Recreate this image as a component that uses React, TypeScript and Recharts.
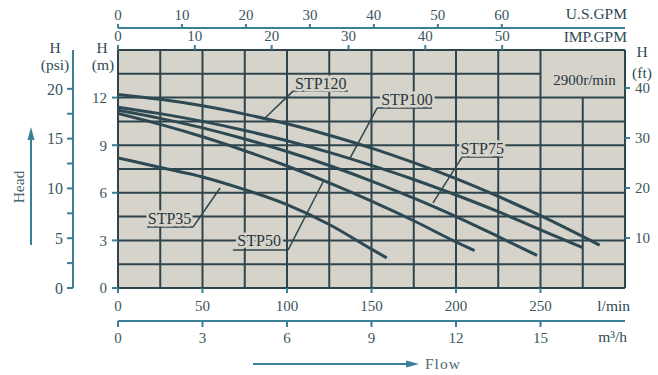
import React from "react";
import {
  ComposedChart,
  Line,
  ReferenceArea,
  ReferenceDot,
  ReferenceLine,
  XAxis,
  YAxis,
} from "recharts";

// pump curves, flow in l/min, head in m
const stp120Flow = [0, 25, 50, 75, 100, 125, 150, 175, 200, 225, 250, 285];
const stp120Head = [12.2, 11.89, 11.48, 10.96, 10.35, 9.63, 8.82, 7.9, 6.89, 5.77, 4.56, 2.7];
const stp100Flow = [0, 25, 50, 75, 100, 125, 150, 175, 200, 225, 250, 275];
const stp100Head = [11.4, 10.99, 10.5, 9.93, 9.28, 8.55, 7.73, 6.84, 5.86, 4.81, 3.67, 2.55];
const stp75Flow = [0, 25, 50, 75, 100, 125, 150, 175, 200, 225, 248];
const stp75Head = [11.2, 10.69, 10.09, 9.39, 8.6, 7.72, 6.74, 5.66, 4.5, 3.24, 2.05];
const stp50Flow = [0, 25, 50, 75, 100, 125, 150, 175, 200, 211];
const stp50Head = [11.0, 10.31, 9.53, 8.65, 7.69, 6.63, 5.48, 4.24, 2.9, 2.35];
const stp35Flow = [0, 25, 50, 75, 100, 125, 150, 159];
const stp35Head = [8.2, 7.6, 7.0, 6.2, 5.25, 4.0, 2.45, 1.9];

// axes
const gridFlows = [0, 25, 50, 75, 100, 125, 150, 175, 200, 225, 250, 275, 300];
const gridHeads = [0, 1.5, 3, 4.5, 6, 7.5, 9, 10.5, 12, 13.5, 15];
const lpmTicks = [0, 50, 100, 150, 200, 250];
const m3hTicks = [0, 3, 6, 9, 12, 15];
const usGpmTicks = [0, 10, 20, 30, 40, 50, 60];
const impGpmTicks = [0, 10, 20, 30, 40, 50];
const mTicks = [0, 3, 6, 9, 12];
const psiTicks = [0, 2.5, 5, 7.5, 10, 12.5, 15, 17.5, 20];
const ftTicks = [10, 20, 30, 40];

// the speed note sits in an open box in the top right corner of the grid
const speedNote = "2900r/min";
const boxFrom = { q: 250, h: 12 };

// curve labels and their leader lines (underline end, underline start, curve point)
const curveNames = ["STP120", "STP100", "STP75", "STP35", "STP50"];
const labelAt = [
  [120, 12.9],
  [171, 11.85],
  [215.5, 8.8],
  [30.5, 4.4],
  [83.5, 2.98],
];
const leaderPaths = [
  [[136, 12.41], [103.6, 12.41], [87, 10.71]],
  [[185.8, 11.34], [153.3, 11.34], [137.3, 8.19]],
  [[227.8, 8.25], [203.6, 8.25], [186.4, 5.36]],
  [[17.2, 3.84], [44.4, 3.84], [60.4, 6.3]],
  [[68, 2.39], [100.6, 2.39], [121.3, 6.68]],
];

const toPoints = (flow: number[], head: number[]) => flow.map((q, i) => ({ q, h: head[i] }));
const series = [
  { name: "STP120", data: toPoints(stp120Flow, stp120Head) },
  { name: "STP100", data: toPoints(stp100Flow, stp100Head) },
  { name: "STP75", data: toPoints(stp75Flow, stp75Head) },
  { name: "STP50", data: toPoints(stp50Flow, stp50Head) },
  { name: "STP35", data: toPoints(stp35Flow, stp35Head) },
];

const maxFlow = gridFlows[gridFlows.length - 1];
const maxHead = gridHeads[gridHeads.length - 1];

const SERIF = "'Liberation Serif', 'DejaVu Serif', serif";
const BG = "#d6d3cb";
const GRID = "#2e454d";
const CURVE = "#2d4953";
const TEAL = "#3a7f98";
const TEXT = "#3d555e";
const tickStyle = { fontFamily: SERIF, fontSize: 15, fill: TEXT };
const tealTick = { stroke: TEAL, strokeWidth: 2 };

function CurveLabel({ cx, cy, text }: { cx?: number; cy?: number; text: string }) {
  return (
    <text
      x={cx}
      y={cy}
      textAnchor="middle"
      dominantBaseline="central"
      fontFamily={SERIF}
      fontSize={16}
      fill="#26373d"
      stroke={BG}
      strokeWidth={5}
      paintOrder="stroke"
    >
      {text}
    </text>
  );
}

function Decorations() {
  return (
    <svg width={658} height={375} style={{ position: "absolute", left: 0, top: 0, pointerEvents: "none" }}>
      <g fontFamily={SERIF} fill="#2f4a54" fontSize={15.5}>
        <text x={55} y={53} textAnchor="middle">H</text>
        <text x={55} y={70} textAnchor="middle">(psi)</text>
        <text x={102} y={53} textAnchor="middle">H</text>
        <text x={103} y={70} textAnchor="middle">(m)</text>
        <text x={642} y={57} textAnchor="middle">H</text>
        <text x={642} y={78} textAnchor="middle">(ft)</text>
        <text x={627} y={19} textAnchor="end">U.S.GPM</text>
        <text x={627} y={42} textAnchor="end">IMP.GPM</text>
        <text x={630} y={311} textAnchor="end">l/min</text>
        <text x={627} y={342} textAnchor="end">m³/h</text>
        <text x={425} y={369} letterSpacing={1} fill="#4b6770">Flow</text>
        <text x={0} y={0} transform="translate(24 187) rotate(-90)" textAnchor="middle" fill="#4b6770">
          Head
        </text>
      </g>
      <line x1={253} y1={364} x2={408} y2={364} stroke={TEAL} strokeWidth={2} />
      <polygon points="406,360.5 419,364 406,367.5" fill={TEAL} />
      <line x1={31} y1={245} x2={31} y2={138} stroke={TEAL} strokeWidth={2} />
      <polygon points="27.5,140 31,127 34.5,140" fill={TEAL} />
    </svg>
  );
}

export default function App() {
  return (
    <div style={{ position: "absolute", left: 0, top: 0, width: 658, height: 375, background: "#fff" }}>
      <ComposedChart width={658} height={375} margin={{ top: 0, right: 0, bottom: 24, left: 0 }}>
        <XAxis
          xAxisId="a-lpm"
          type="number"
          dataKey="q"
          domain={[0, 300]}
          ticks={lpmTicks}
          interval={0}
          height={33}
          allowDataOverflow
          axisLine={false}
          tickLine={tealTick}
          tickSize={5}
          tickMargin={7}
          tick={tickStyle}
        />
        <XAxis
          xAxisId="b-m3h"
          type="number"
          dataKey="q"
          domain={[0, 18]}
          ticks={m3hTicks}
          interval={0}
          height={30}
          allowDataOverflow
          axisLine={tealTick}
          tickLine={tealTick}
          tickSize={6}
          tickMargin={5}
          tick={tickStyle}
        />
        <XAxis
          xAxisId="c-imp"
          orientation="top"
          type="number"
          dataKey="q"
          domain={[0, 65.99]}
          ticks={impGpmTicks}
          interval={0}
          height={22}
          allowDataOverflow
          axisLine={false}
          tickLine={tealTick}
          tickSize={5}
          tickMargin={4}
          tick={tickStyle}
        />
        <XAxis
          xAxisId="d-us"
          orientation="top"
          type="number"
          dataKey="q"
          domain={[0, 79.26]}
          ticks={usGpmTicks}
          interval={0}
          height={28}
          allowDataOverflow
          axisLine={tealTick}
          tickLine={tealTick}
          tickSize={4}
          tickMargin={4}
          tick={tickStyle}
        />
        <YAxis
          yAxisId="a-m"
          type="number"
          domain={[0, 15]}
          ticks={mTicks}
          interval={0}
          width={45}
          allowDataOverflow
          axisLine={false}
          tickLine={tealTick}
          tickSize={6}
          tickMargin={5}
          tick={tickStyle}
        />
        <YAxis
          yAxisId="b-psi"
          type="number"
          domain={[0, 23.9]}
          ticks={psiTicks}
          interval={0}
          width={73}
          allowDataOverflow
          axisLine={tealTick}
          tickLine={tealTick}
          tickSize={6}
          tickMargin={4}
          tick={{ ...tickStyle, fontSize: 16 }}
          tickFormatter={(v: number) => (v % 5 === 0 ? String(v) : "")}
        />
        <YAxis
          yAxisId="c-ft"
          orientation="right"
          type="number"
          domain={[0, 47.6]}
          ticks={ftTicks}
          interval={0}
          width={33}
          allowDataOverflow
          axisLine={false}
          tickLine={tealTick}
          tickSize={5}
          tickMargin={5}
          tick={tickStyle}
        />

        <ReferenceArea xAxisId="a-lpm" yAxisId="a-m" x1={0} x2={maxFlow} y1={0} y2={maxHead} fill={BG} fillOpacity={1} />
        {/* grid, leaving the inner lines out of the speed-note box */}
        {gridFlows.map((q) => (
          <ReferenceLine
            key={`v${q}`}
            xAxisId="a-lpm"
            yAxisId="a-m"
            segment={[
              { x: q, y: 0 },
              { x: q, y: q > boxFrom.q && q < maxFlow ? boxFrom.h : maxHead },
            ]}
            stroke={GRID}
            strokeWidth={2}
          />
        ))}
        {gridHeads.map((h) => (
          <ReferenceLine
            key={`h${h}`}
            xAxisId="a-lpm"
            yAxisId="a-m"
            segment={[
              { x: 0, y: h },
              { x: h > boxFrom.h && h < maxHead ? boxFrom.q : maxFlow, y: h },
            ]}
            stroke={GRID}
            strokeWidth={2}
          />
        ))}

        {leaderPaths.map((path, i) =>
          path.slice(1).map((pt, j) => (
            <ReferenceLine
              key={`${i}-${j}`}
              xAxisId="a-lpm"
              yAxisId="a-m"
              segment={[
                { x: path[j][0], y: path[j][1] },
                { x: pt[0], y: pt[1] },
              ]}
              stroke={GRID}
              strokeWidth={1.5}
            />
          )),
        )}

        {series.map((s) => (
          <Line
            key={s.name}
            xAxisId="a-lpm"
            yAxisId="a-m"
            data={s.data}
            dataKey="h"
            name={s.name}
            type="monotone"
            stroke={CURVE}
            strokeWidth={3}
            dot={false}
            isAnimationActive={false}
          />
        ))}

        {curveNames.map((name, i) => (
          <ReferenceDot
            key={name}
            xAxisId="a-lpm"
            yAxisId="a-m"
            x={labelAt[i][0]}
            y={labelAt[i][1]}
            shape={(p: { cx?: number; cy?: number }) => <CurveLabel cx={p.cx} cy={p.cy} text={name} />}
          />
        ))}
        <ReferenceDot
          xAxisId="a-lpm"
          yAxisId="a-m"
          x={276}
          y={13.1}
          shape={(p: { cx?: number; cy?: number }) => (
            <text x={p.cx} y={p.cy} textAnchor="middle" dominantBaseline="central" fontFamily={SERIF} fontSize={15} fill="#26373d">
              {speedNote}
            </text>
          )}
        />
      </ComposedChart>
      <Decorations />
    </div>
  );
}
